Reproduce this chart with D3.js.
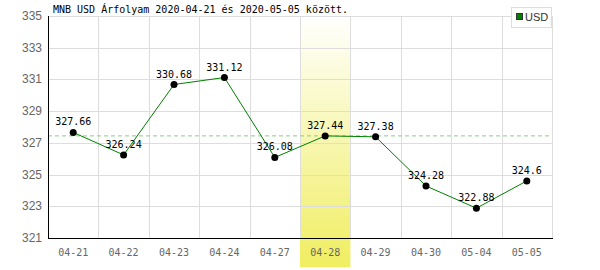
<!DOCTYPE html>
<html>
<head>
<meta charset="utf-8">
<script src="https://cdn.jsdelivr.net/npm/d3@7"></script>
<style>
  body { margin: 0; background: #fff; }
  svg { display: block; }
</style>
</head>
<body>
<div id="chart"></div>
<script>
// data
var dates = ["04-21", "04-22", "04-23", "04-24", "04-27", "04-28", "04-29", "04-30", "05-04", "05-05"];
var rates = [327.66, 326.24, 330.68, 331.12, 326.08, 327.44, 327.38, 324.28, 322.88, 324.6];
var yTicks = [321, 323, 325, 327, 329, 331, 333, 335];
var highlightDate = "04-28";
var refValue = 327.44;
var title = "MNB USD Árfolyam 2020-04-21 és 2020-05-05 között.";
var seriesName = "USD";

var width = 600;
var height = 270;
var svg = d3.select("#chart")
    .append("svg")
    .attr("width", width)
    .attr("height", height);

var margin = ({top: 16, right: 48, bottom: 32, left: 48}),
    iwidth = width - margin.left - margin.right,
    iheight = height - margin.top - margin.bottom;

var x = d3.scaleBand().domain(dates).range([0, iwidth]);
var y = d3.scaleLinear().domain([321, 335]).range([iheight, 0]);

var defs = svg.append("defs");
var grad = defs.append("linearGradient")
    .attr("id", "hl")
    .attr("x1", 0).attr("y1", 0).attr("x2", 0).attr("y2", 1);
grad.append("stop").attr("offset", "0%").attr("stop-color", "#ffffff");
grad.append("stop").attr("offset", "100%").attr("stop-color", "#f0ee60");

var g = svg.append("g")
    .attr("transform", "translate(" + margin.left + "," + margin.top + ")");

// highlighted day
g.append("rect")
    .attr("x", x(highlightDate))
    .attr("y", 0)
    .attr("width", x.bandwidth())
    .attr("height", height - margin.top - 3)
    .style("fill", "url(#hl)");

// grid
g.selectAll(".hgrid")
    .data(yTicks)
    .enter().append("line")
    .attr("x1", 0)
    .attr("x2", iwidth)
    .attr("y1", function(d) { return Math.round(y(d)) + 0.5; })
    .attr("y2", function(d) { return Math.round(y(d)) + 0.5; })
    .attr("stroke", "#dddddd");

var vlines = dates.slice(1).map(function(d) { return x(d); }).concat([iwidth]);
g.selectAll(".vgrid")
    .data(vlines)
    .enter().append("line")
    .attr("x1", function(d) { return Math.round(d) + 0.5; })
    .attr("x2", function(d) { return Math.round(d) + 0.5; })
    .attr("y1", 0)
    .attr("y2", iheight)
    .attr("stroke", "#dddddd");

// reference dashed line
g.append("line")
    .attr("x1", 0)
    .attr("x2", iwidth)
    .attr("y1", y(refValue))
    .attr("y2", y(refValue))
    .attr("stroke", "#88cc88")
    .attr("stroke-dasharray", "4,3");

// axes lines
g.append("line")
    .attr("x1", 0.5).attr("x2", 0.5)
    .attr("y1", 0).attr("y2", iheight + 1)
    .attr("stroke", "#000");
g.append("line")
    .attr("x1", 0).attr("x2", iwidth + 1)
    .attr("y1", iheight + 0.5).attr("y2", iheight + 0.5)
    .attr("stroke", "#000");

// y tick labels
g.selectAll(".ylab")
    .data(yTicks)
    .enter().append("text")
    .attr("x", -6)
    .attr("y", function(d) { return y(d) + 4; })
    .attr("text-anchor", "end")
    .style("font-family", "'Liberation Sans', Arial, sans-serif")
    .style("font-size", "12px")
    .style("fill", "#666")
    .text(function(d) { return d; });

// x tick labels
g.selectAll(".xlab")
    .data(dates)
    .enter().append("text")
    .attr("x", function(d) { return x(d) + x.bandwidth() / 2; })
    .attr("y", iheight + 18)
    .attr("text-anchor", "middle")
    .style("font-family", "'DejaVu Sans Mono', monospace")
    .style("font-size", "10px")
    .style("fill", "#666")
    .text(function(d) { return d; });

// the line
var valueline = d3.line()
    .x(function(d, i) { return x(dates[i]) + x.bandwidth() / 2; })
    .y(function(d) { return y(d); });

g.append("path")
    .data([rates])
    .attr("fill", "none")
    .attr("stroke", "#008000")
    .attr("stroke-width", 1)
    .attr("d", valueline);

g.selectAll(".dot")
    .data(rates)
    .enter().append("circle")
    .attr("cx", function(d, i) { return x(dates[i]) + x.bandwidth() / 2; })
    .attr("cy", function(d) { return y(d); })
    .attr("r", 3.5)
    .style("fill", "#000");

g.selectAll(".vlab")
    .data(rates)
    .enter().append("text")
    .attr("x", function(d, i) { return x(dates[i]) + x.bandwidth() / 2; })
    .attr("y", function(d) { return y(d) - 7; })
    .attr("text-anchor", "middle")
    .style("font-family", "'DejaVu Sans Mono', monospace")
    .style("font-size", "10px")
    .style("fill", "#000")
    .text(function(d) { return d; });

// title
svg.append("text")
    .attr("x", 53)
    .attr("y", 13)
    .style("font-family", "'DejaVu Sans Mono', monospace")
    .style("font-size", "10px")
    .style("fill", "#000")
    .text(title);

// legend
svg.append("rect")
    .attr("x", 511.5)
    .attr("y", 7.5)
    .attr("width", 40)
    .attr("height", 20)
    .style("fill", "#fff")
    .style("stroke", "#dddddd");
svg.append("rect")
    .attr("x", 516.5)
    .attr("y", 13.5)
    .attr("width", 6)
    .attr("height", 6)
    .style("fill", "#008000")
    .style("stroke", "#333");
svg.append("text")
    .attr("x", 525)
    .attr("y", 21)
    .text(seriesName)
    .style("font-family", "'Liberation Sans', Arial, sans-serif")
    .style("font-size", "11px")
    .style("fill", "#333");
</script>
</body>
</html>
